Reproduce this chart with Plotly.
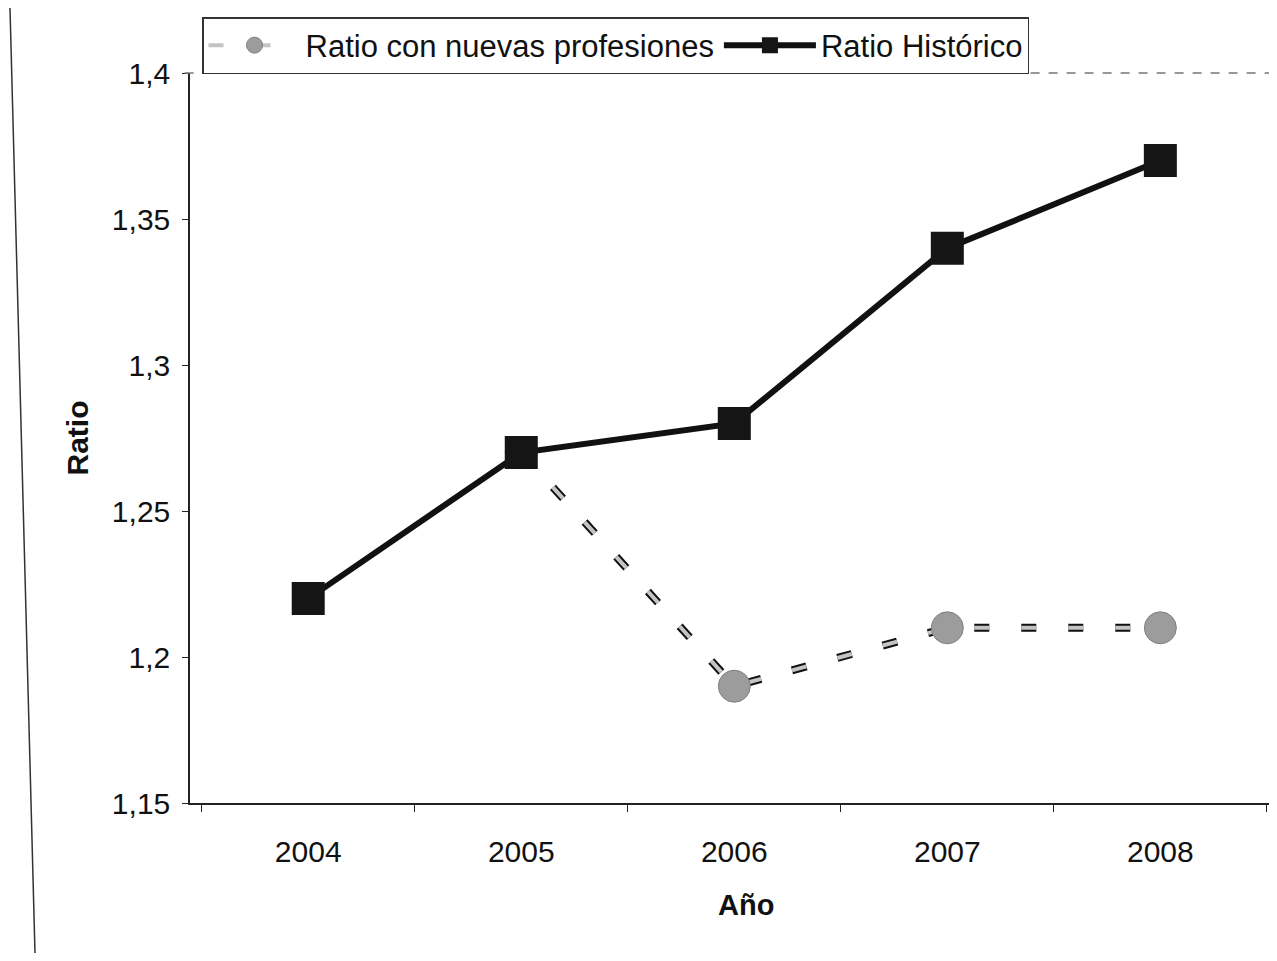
import plotly.graph_objects as go

years = ["2004", "2005", "2006", "2007", "2008"]
ratio_historico = [1.22, 1.27, 1.28, 1.34, 1.37]
ratio_nuevas = [None, 1.27, 1.19, 1.21, 1.21]
y_ticks = [1.15, 1.2, 1.25, 1.3, 1.35, 1.4]
y_ticklabels = ["1,15", "1,2", "1,25", "1,3", "1,35", "1,4"]

FONT = "Arial, 'Liberation Sans', sans-serif"
OFF = 8  # page body margin
W, H = 1277 - 2 * OFF, 961 - 2 * OFF
L, T = 190 - OFF, 73 - OFF
B = H - (803 - OFF)
R = 0

fig = go.Figure()

DASH = "15px,32px"
fig.add_trace(go.Scatter(
    x=years, y=ratio_nuevas, mode="lines", showlegend=False, hoverinfo="skip",
    line=dict(color="#111111", width=8, dash=DASH),
))
fig.add_trace(go.Scatter(
    x=years, y=ratio_nuevas, mode="lines+markers", name="Ratio con nuevas profesiones",
    line=dict(color="#c4c4c4", width=4, dash=DASH),
    marker=dict(symbol="circle", size=32, color="#9c9c9c",
                line=dict(color="#808080", width=1)),
))
fig.add_trace(go.Scatter(
    x=years, y=ratio_historico, mode="lines+markers", name="Ratio Histórico",
    line=dict(color="#111111", width=6),
    marker=dict(symbol="square", size=33, color="#151515"),
))

pw = W - L - R
ph = H - T - B


def px_x(p):
    return (p - OFF - L) / pw


def px_y(p):
    return (H - B - (p - OFF)) / ph


# chart outer frame (left) and plot-area top border
fig.add_shape(type="line", xref="paper", yref="paper",
              x0=px_x(10), x1=px_x(35), y0=px_y(OFF), y1=px_y(961 - OFF),
              line=dict(color="#333333", width=1.5))
fig.add_shape(type="line", xref="paper", yref="paper",
              x0=-0.005, x1=1, y0=1, y1=1,
              line=dict(color="#777777", width=1.5, dash="dash"))

fig.add_annotation(text="<b>Año</b>", xref="paper", yref="paper",
                   x=px_x(746), y=px_y(905), xanchor="center", yanchor="middle",
                   showarrow=False, font=dict(family=FONT, size=29, color="#111111"))

fig.update_layout(
    width=W, height=H,
    margin=dict(l=L, r=R, t=T, b=B, autoexpand=False),
    paper_bgcolor="white", plot_bgcolor="white",
    font=dict(family=FONT, color="#111111", size=28),
    showlegend=True,
    legend=dict(
        orientation="h", xref="container", yref="container",
        x=(202 - OFF) / W, y=1 - (17 - OFF) / H,
        xanchor="left", yanchor="top",
        bordercolor="#333333", borderwidth=1.5, bgcolor="white",
        font=dict(family=FONT, size=31, color="#111111"),
        itemwidth=92, tracegroupgap=0,
    ),
    xaxis=dict(
        type="category", range=[-0.555, 4.51], automargin=False,
        showline=True, linecolor="#222222", linewidth=1.5,
        ticks="outside", tickson="boundaries", ticklen=7, tickcolor="#222222",
        showgrid=False, zeroline=False,
        tickfont=dict(family=FONT, size=30, color="#111111"),
        ticklabelstandoff=21,
    ),
    yaxis=dict(
        range=[1.15, 1.4], tickvals=y_ticks, ticktext=y_ticklabels, automargin=False,
        showline=True, linecolor="#222222", linewidth=1.5,
        ticks="outside", ticklen=6, tickcolor="#222222",
        showgrid=False, zeroline=False,
        tickfont=dict(family=FONT, size=30, color="#111111"),
        ticklabelstandoff=6,
        title=dict(text="<b>Ratio</b>", font=dict(family=FONT, size=30, color="#111111"), standoff=14),
    ),
)

fig.write_html("out.html")
